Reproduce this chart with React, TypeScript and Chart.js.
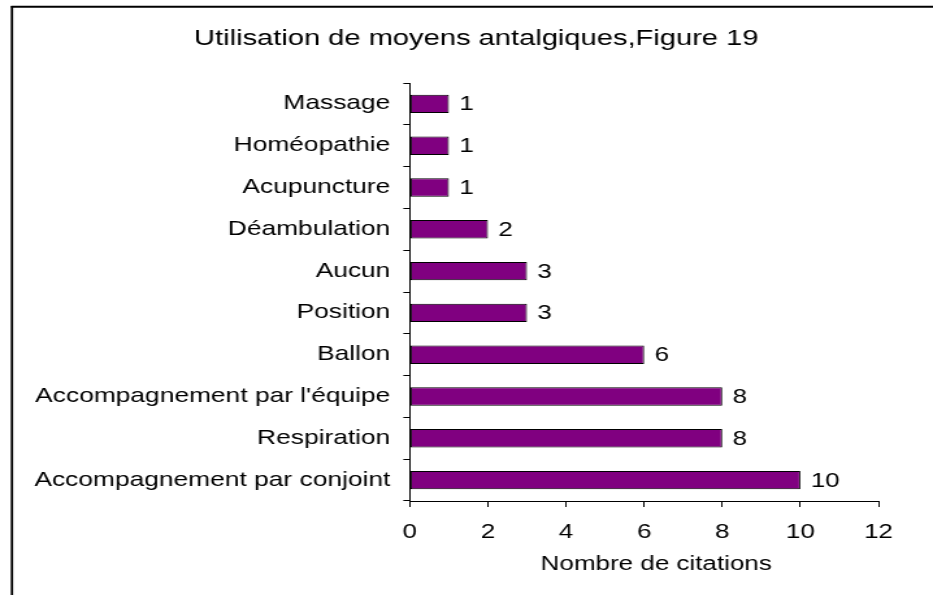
import React, { useEffect, useRef } from "react";
import { Chart, registerables } from "chart.js";

Chart.register(...registerables);

const categories = [
  "Massage",
  "Homéopathie",
  "Acupuncture",
  "Déambulation",
  "Aucun",
  "Position",
  "Ballon",
  "Accompagnement par l'équipe",
  "Respiration",
  "Accompagnement par conjoint",
];
const citations = [1, 1, 1, 2, 3, 3, 6, 8, 8, 10];
const chartTitle = "Utilisation de moyens antalgiques,Figure 19";
const xAxisTitle = "Nombre de citations";

const STRETCH = 1.3;
const CSS_W = 933;
const CSS_H = 595;
const W = Math.round(CSS_W / STRETCH);
const FONT = "'Liberation Sans', Arial, sans-serif";

const framePlugin = {
  id: "frame",
  beforeDraw(chart: any) {
    const ctx = chart.ctx;
    ctx.save();
    ctx.fillStyle = "#ffffff";
    ctx.fillRect(0, 0, chart.width, chart.height);
    ctx.strokeStyle = "#000000";
    ctx.lineWidth = 2;
    ctx.beginPath();
    ctx.moveTo(8.5, 6.8);
    ctx.lineTo(chart.width, 6.8);
    ctx.stroke();
    ctx.lineWidth = 1.8;
    ctx.beginPath();
    ctx.moveTo(9.2, 6);
    ctx.lineTo(9.2, chart.height);
    ctx.stroke();
    ctx.restore();
  },
  afterDraw(chart: any) {
    const ctx = chart.ctx;
    ctx.save();
    ctx.fillStyle = "#000000";
    ctx.textAlign = "center";
    ctx.textBaseline = "middle";
    ctx.font = `22.4px ${FONT}`;
    ctx.fillText(chartTitle, 366.5, 38.5);
    ctx.font = `20px ${FONT}`;
    ctx.fillText(xAxisTitle, 505, 564.5);
    ctx.restore();
  },
};

const valueLabelPlugin = {
  id: "valueLabels",
  afterDatasetsDraw(chart: any) {
    const ctx = chart.ctx;
    const meta = chart.getDatasetMeta(0);
    const data = chart.data.datasets[0].data;
    ctx.save();
    ctx.font = `20px ${FONT}`;
    ctx.fillStyle = "#000000";
    ctx.textAlign = "left";
    ctx.textBaseline = "middle";
    meta.data.forEach((bar: any, i: number) => {
      ctx.fillText(String(data[i]), bar.x + 8, bar.y + 1);
    });
    ctx.restore();
  },
};

export default function App() {
  const ref = useRef<HTMLCanvasElement>(null);

  useEffect(() => {
    if (!ref.current) return;
    const chart = new Chart(ref.current, {
      type: "bar",
      data: {
        labels: categories,
        datasets: [
          {
            data: citations,
            backgroundColor: "#800080",
            borderColor: "#000000",
            borderWidth: 1,
            borderSkipped: false,
            barPercentage: 0.44,
            categoryPercentage: 1,
          },
        ],
      },
      options: {
        indexAxis: "y",
        responsive: false,
        animation: false,
        devicePixelRatio: 1,
        layout: { padding: { left: 0, right: 42, top: 83, bottom: 0 } },
        plugins: {
          legend: { display: false },
          tooltip: { enabled: false },
          title: { display: false },
        },
        scales: {
          x: {
            type: "linear",
            min: 0,
            max: 12,
            ticks: {
              stepSize: 2,
              color: "#000000",
              font: { family: FONT, size: 20 },
              padding: 13,
            },
            grid: {
              drawOnChartArea: false,
              drawTicks: true,
              tickLength: 6,
              color: "#000000",
            },
            border: { display: true, color: "#000000", width: 1 },
            title: { display: false },
            afterFit(scale: any) {
              scale.height = 94;
            },
          },
          y: {
            type: "category",
            ticks: {
              color: "#000000",
              font: { family: FONT, size: 20.3 },
              padding: 10,
              autoSkip: false,
            },
            grid: {
              drawOnChartArea: false,
              drawTicks: true,
              tickLength: 5,
              color: "#000000",
              offset: true,
            },
            border: { display: true, color: "#000000", width: 1 },
            afterFit(scale: any) {
              scale.width = 315.4;
            },
          },
        },
      },
      plugins: [framePlugin, valueLabelPlugin],
    } as any);
    return () => chart.destroy();
  }, []);

  return (
    <div style={{ position: "fixed", left: 0, top: 0, width: CSS_W, height: CSS_H, background: "#fff" }}>
      <canvas
        ref={ref}
        width={W}
        height={CSS_H}
        style={{ width: `${CSS_W}px`, height: `${CSS_H}px`, display: "block" }}
      />
    </div>
  );
}
